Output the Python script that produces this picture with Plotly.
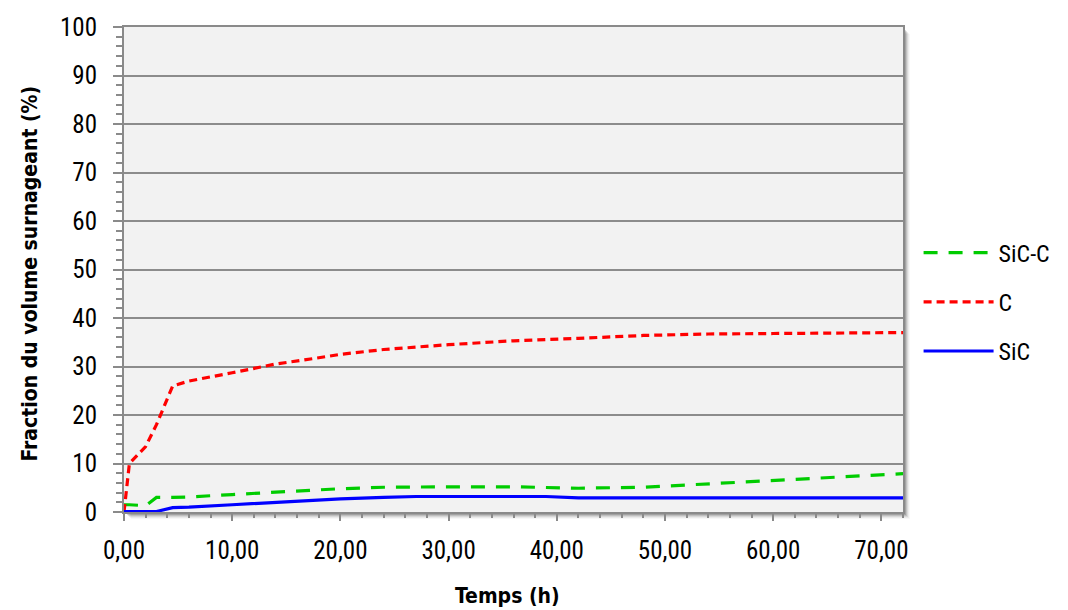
import plotly.graph_objects as go

# Data
t_h = [0, 0.5, 2, 3, 4.5, 6, 10, 14, 18, 20, 24, 27, 30, 36, 39, 42, 48, 54, 60, 66, 72]
sic_c = [1.5, 1.5, 1.3, 3.0, 3.0, 3.1, 3.6, 4.1, 4.6, 4.8, 5.1, 5.2, 5.2, 5.2, 5.1, 4.9, 5.1, 5.8, 6.6, 7.3, 7.9]
c_vals = [0, 10, 13.5, 18, 26, 27, 28.7, 30.5, 31.8, 32.5, 33.5, 34, 34.5, 35.3, 35.5, 35.8, 36.4, 36.7, 36.8, 36.9, 37.0]
sic = [0.1, 0.1, 0.1, 0.1, 0.9, 1.0, 1.5, 2.0, 2.4, 2.7, 3.0, 3.2, 3.2, 3.2, 3.2, 2.9, 2.9, 2.9, 2.9, 2.9, 2.9]

series_names = ["SiC-C", "C", "SiC"]
x_title = "Temps (h)"
y_title = "Fraction du volume surnageant (%)"

FONT = "Roboto Condensed, Liberation Sans Narrow, DejaVu Sans Condensed, sans-serif"
TFONT = "DejaVu Sans Condensed, Roboto Condensed, sans-serif"
GRAY = "#8a8a8a"

fig = go.Figure()
fig.add_trace(go.Scatter(x=t_h, y=sic_c, mode="lines", name=series_names[0], legendgroup="a",
                         line=dict(color="#00cc00", width=3.2, dash="14px,11px")))
fig.add_trace(go.Scatter(x=t_h, y=c_vals, mode="lines", name=series_names[1], legendgroup="b",
                         line=dict(color="#ff0000", width=3.2, dash="8px,5px")))
fig.add_trace(go.Scatter(x=t_h, y=sic, mode="lines", name=series_names[2], legendgroup="c",
                         line=dict(color="#0000ff", width=3.2)))

# shadow + plot background drawn as shapes
W_PLOT = 792.0
H_PLOT = 485.0
px_x = 1 / W_PLOT
px_y = 1 / H_PLOT
shapes = []
for i, op in zip([7, 6, 5, 4, 3, 2], [0.03, 0.05, 0.08, 0.11, 0.15, 0.2]):
    shapes.append(dict(type="rect", xref="x domain", yref="y domain",
                       x0=i * px_x, x1=1 + i * px_x, y0=-i * px_y, y1=1 - i * px_y,
                       fillcolor=f"rgba(0,0,0,{op})", line=dict(width=0), layer="below"))
shapes.append(dict(type="rect", xref="x domain", yref="y domain", x0=0, x1=1, y0=0, y1=1,
                   fillcolor="#f2f2f2", line=dict(width=0), layer="below"))

annotations = [
    dict(text=f"<b>{x_title}</b>", xref="paper", yref="paper",
         x=(514 - 124) / W_PLOT, y=-(596 - 512) / H_PLOT, xanchor="center", yanchor="middle",
         showarrow=False, font=dict(family=TFONT, size=21, color="#000")),
    dict(text=f"<b>{y_title}</b>", xref="paper", yref="paper",
         x=-(124 - 28) / W_PLOT, y=(512 - 274) / H_PLOT, xanchor="center", yanchor="middle",
         textangle=-90, showarrow=False, font=dict(family=TFONT, size=21, color="#000")),
]

fig.update_layout(
    width=1060, height=602,
    margin=dict(l=116, r=152, t=19, b=98),
    paper_bgcolor="white",
    plot_bgcolor="rgba(0,0,0,0)",
    separators=", ",
    font=dict(family=FONT, size=25, color="#000000"),
    shapes=shapes,
    annotations=annotations,
    showlegend=True,
    legend=dict(x=1.02, y=(512 - 302) / H_PLOT, xanchor="left", yanchor="middle",
                itemwidth=70, traceorder="grouped", tracegroupgap=15,
                font=dict(family=FONT, size=24, color="#000000"),
                bgcolor="rgba(0,0,0,0)"),
    xaxis=dict(range=[0, 72], dtick=10, tick0=0, tickformat=".2f", automargin=False,
               showgrid=False, zeroline=False,
               showline=True, linecolor=GRAY, linewidth=2, mirror=True,
               ticks="outside", ticklen=7, tickcolor=GRAY, tickwidth=1.5, ticklabelstandoff=8,
               minor=dict(dtick=2, ticks="outside", ticklen=4, tickcolor=GRAY, tickwidth=1.5),
               tickfont=dict(family=FONT, size=25)),
    yaxis=dict(range=[0, 100], dtick=10, tick0=0, automargin=False,
               showgrid=True, gridcolor="#8c8c8c", gridwidth=1.5, zeroline=False,
               showline=True, linecolor=GRAY, linewidth=2, mirror=True,
               ticks="outside", ticklen=9, tickcolor=GRAY, tickwidth=1.5, ticklabelstandoff=11,
               minor=dict(dtick=2, ticks="outside", ticklen=6, tickcolor=GRAY, tickwidth=1.5, showgrid=False),
               tickfont=dict(family=FONT, size=25)),
)

fig.write_html("out.html")
